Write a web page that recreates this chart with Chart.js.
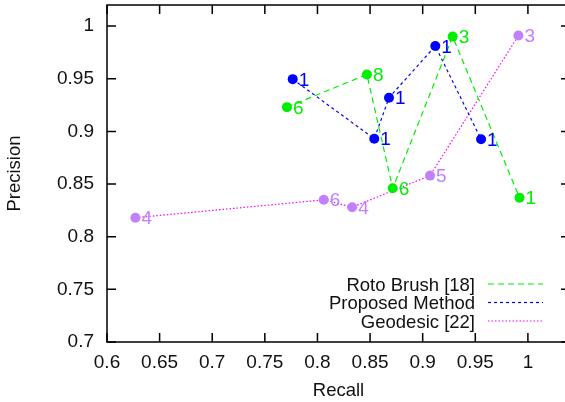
<!DOCTYPE html>
<html lang="en">
<head>
    <meta charset="UTF-8">
    <title>Precision vs Recall</title>
    <script src="https://cdn.jsdelivr.net/npm/chart.js"></script>
    <style>
        * { margin: 0; padding: 0; box-sizing: border-box; }
        body { background: white; overflow: hidden; width: 565px; height: 402px; }
        .wrap { position: relative; width: 575px; height: 402px; }
    </style>
</head>
<body>
    <div class="wrap"><canvas id="chart"></canvas></div>
    <script>
        // values
        const rotoRecall = [0.771, 0.847, 0.8715, 0.9285, 0.992];
        const rotoPrecision = [0.923, 0.954, 0.846, 0.990, 0.837];
        const rotoLabels = ['6', '8', '6', '3', '1'];

        const proposedRecall = [0.7765, 0.854, 0.868, 0.912, 0.9555];
        const proposedPrecision = [0.9496, 0.893, 0.932, 0.981, 0.8925];
        const proposedLabels = ['1', '1', '1', '1', '1'];

        const geodesicRecall = [0.627, 0.806, 0.833, 0.907, 0.991];
        const geodesicPrecision = [0.818, 0.835, 0.828, 0.858, 0.991];
        const geodesicLabels = ['4', '6', '4', '5', '3'];

        const seriesNames = ['Roto Brush [18]', 'Proposed Method', 'Geodesic [22]'];
        const xTicks = [0.6, 0.65, 0.7, 0.75, 0.8, 0.85, 0.9, 0.95, 1];
        const yTicks = [0.7, 0.75, 0.8, 0.85, 0.9, 0.95, 1];

        const FONT = "'Liberation Sans', Arial, sans-serif";

        function toPoints(xs, ys) {
            return xs.map((x, i) => ({ x: x, y: ys[i] }));
        }

        function makeSet(name, xs, ys, labels, lineColor, pointColor, dash) {
            return {
                label: name,
                data: toPoints(xs, ys),
                pointLabels: labels,
                showLine: true,
                borderColor: lineColor,
                borderWidth: 1.2,
                borderDash: dash,
                pointRadius: 5,
                pointHoverRadius: 5,
                pointBorderWidth: 0,
                pointBackgroundColor: pointColor,
                pointBorderColor: pointColor,
                labelColor: pointColor
            };
        }

        // gnuplot style frame with inward ticks on all four sides
        const framePlugin = {
            id: 'frame',
            afterDatasetsDraw(chart) {
                const { ctx, chartArea: a, scales } = chart;
                ctx.save();
                ctx.strokeStyle = '#000';
                ctx.lineWidth = 1.5;
                ctx.strokeRect(a.left, a.top, a.right - a.left, a.bottom - a.top);
                ctx.beginPath();
                xTicks.forEach(v => {
                    const px = scales.x.getPixelForValue(v);
                    ctx.moveTo(px, a.bottom); ctx.lineTo(px, a.bottom - 9);
                    ctx.moveTo(px, a.top); ctx.lineTo(px, a.top + 9);
                });
                yTicks.forEach(v => {
                    const py = scales.y.getPixelForValue(v);
                    ctx.moveTo(a.left, py); ctx.lineTo(a.left + 9, py);
                    ctx.moveTo(a.right, py); ctx.lineTo(a.right - 9, py);
                });
                ctx.stroke();
                ctx.restore();
            }
        };

        // number next to every point
        const labelPlugin = {
            id: 'pointText',
            afterDatasetsDraw(chart) {
                const ctx = chart.ctx;
                ctx.save();
                ctx.font = '19px ' + FONT;
                ctx.textAlign = 'left';
                ctx.textBaseline = 'alphabetic';
                chart.data.datasets.forEach((ds, i) => {
                    const meta = chart.getDatasetMeta(i);
                    ctx.fillStyle = ds.labelColor;
                    meta.data.forEach((pt, j) => {
                        ctx.fillText(ds.pointLabels[j], pt.x + 6, pt.y + 6.5);
                    });
                });
                ctx.restore();
            }
        };

        // key on the right, text first then line sample
        const keyPlugin = {
            id: 'key',
            afterDraw(chart) {
                const ctx = chart.ctx;
                ctx.save();
                ctx.font = '18.5px ' + FONT;
                ctx.textAlign = 'right';
                ctx.textBaseline = 'alphabetic';
                chart.data.datasets.forEach((ds, i) => {
                    const base = 290.5 + i * 18.5;
                    ctx.fillStyle = '#111';
                    ctx.fillText(ds.label, 475, base);
                    ctx.strokeStyle = ds.borderColor;
                    ctx.lineWidth = 1.2;
                    ctx.setLineDash(ds.borderDash);
                    ctx.beginPath();
                    ctx.moveTo(488, base - 6.5);
                    ctx.lineTo(543, base - 6.5);
                    ctx.stroke();
                });
                ctx.restore();
            }
        };

        new Chart(document.getElementById('chart'), {
            type: 'scatter',
            data: {
                datasets: [
                    makeSet(seriesNames[0], rotoRecall, rotoPrecision, rotoLabels, '#00ee00', '#00ee00', [6, 4]),
                    makeSet(seriesNames[1], proposedRecall, proposedPrecision, proposedLabels, '#0000ff', '#0000ff', [3, 3]),
                    makeSet(seriesNames[2], geodesicRecall, geodesicPrecision, geodesicLabels, '#ff00ff', '#c080ff', [1.5, 2])
                ]
            },
            options: {
                responsive: true,
                maintainAspectRatio: false,
                animation: false,
                layout: { padding: { top: 5, right: 0, left: 0, bottom: 0 } },
                plugins: {
                    legend: { display: false },
                    tooltip: { enabled: false }
                },
                scales: {
                    x: {
                        type: 'linear',
                        min: 0.6,
                        max: 1.04,
                        afterBuildTicks: s => { s.ticks = xTicks.map(v => ({ value: v })); },
                        afterFit: s => {
                            s.height = 60;
                            s.paddingLeft = 0;
                            s.paddingRight = 0;
                        },
                        grid: { display: false, drawTicks: false },
                        border: { display: false },
                        ticks: {
                            color: '#111',
                            padding: 9,
                            maxRotation: 0,
                            font: { family: FONT, size: 19 },
                            callback: v => String(Number(v.toFixed(2)))
                        },
                        title: {
                            display: true,
                            text: 'Recall',
                            color: '#111',
                            padding: { top: 4, bottom: 0 },
                            font: { family: FONT, size: 18.5 }
                        }
                    },
                    y: {
                        type: 'linear',
                        min: 0.7,
                        max: 1.02,
                        afterBuildTicks: s => { s.ticks = yTicks.map(v => ({ value: v })); },
                        afterFit: s => {
                            s.width = 107;
                            s.paddingTop = 0;
                            s.paddingBottom = 0;
                        },
                        grid: { display: false, drawTicks: false },
                        border: { display: false },
                        ticks: {
                            color: '#111',
                            padding: 13,
                            font: { family: FONT, size: 19 },
                            callback: v => String(Number(v.toFixed(2)))
                        },
                        title: {
                            display: true,
                            text: 'Precision',
                            color: '#111',
                            padding: { top: 4, bottom: 0 },
                            font: { family: FONT, size: 18.5 }
                        }
                    }
                }
            },
            plugins: [framePlugin, labelPlugin, keyPlugin]
        });
    </script>
</body>
</html>
